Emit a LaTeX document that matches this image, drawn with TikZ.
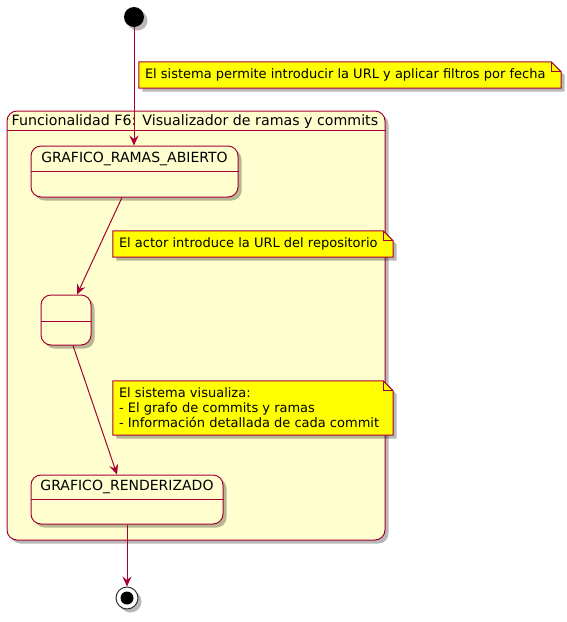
\documentclass[tikz,border=0pt]{standalone}
\usepackage{fontspec}
\setmainfont{DejaVu Sans}
\usetikzlibrary{arrows.meta,shadows}
\definecolor{umlborder}{HTML}{A80036}
\definecolor{umlfill}{HTML}{FEFECE}
\definecolor{umlnote}{HTML}{FFFF00}

\begin{document}
\begin{tikzpicture}[x=1pt,y=-1pt,
    every node/.style={font=\fontsize{13}{15}\selectfont},
    shade/.style={drop shadow={shadow xshift=3.5pt,shadow yshift=-3.5pt,fill=black,opacity=0.28}},
    state/.style={draw=umlborder,line width=1pt,fill=umlfill,rounded corners=10pt,shade,inner sep=0pt},
    notebox/.style={draw=umlborder,line width=1pt,fill=umlnote,shade},
    sep/.style={draw=umlborder,line width=1pt},
    statename/.style={font=\fontsize{14}{16}\selectfont},
    trans/.style={draw=umlborder,line width=1pt,-{Stealth[length=10pt,width=9pt,inset=3.5pt]}}]
    \useasboundingbox (0,0) rectangle (567,622);
    % composite state
    \node[state,minimum width=378pt,minimum height=429pt] (f6) at (196,325.5) {};
    \node[anchor=west,inner sep=0pt,font=\fontsize{14.2}{16}\selectfont] (f6title) at ([xshift=5pt,yshift=-11pt]f6.north west) {Funcionalidad F6: Visualizador de ramas y commits};
    \draw[sep] ([yshift=-20pt]f6.north west) -- ([yshift=-20pt]f6.north east);
    % states
    \node[state,minimum width=207pt,minimum height=51pt] (abierto) at (134.5,171.5) {};
    \node[statename] at ([yshift=-13pt]abierto.north) {GRAFICO\_RAMAS\_ABIERTO};
    \draw[sep] ([yshift=-26pt]abierto.north west) -- ([yshift=-26pt]abierto.north east);
    \node[state,minimum width=50pt,minimum height=50pt] (vacio) at (66,320) {};
    \draw[sep] ([yshift=-27pt]vacio.north west) -- ([yshift=-27pt]vacio.north east);
    \node[state,minimum width=192pt,minimum height=49pt] (render) at (127,499.5) {};
    \node[statename] at ([yshift=-12.5pt]render.north) {GRAFICO\_RENDERIZADO};
    \draw[sep] ([yshift=-25pt]render.north west) -- ([yshift=-25pt]render.north east);
    % start and end
    \node[circle,fill=black,minimum size=20pt,inner sep=0pt,shade] (inicio) at (134,17) {};
    \node[circle,draw=black!80,line width=1pt,fill=white,minimum size=22pt,inner sep=0pt,shade] (fin) at (127,598) {};
    \node[circle,fill=black,minimum size=13pt,inner sep=0pt] at (fin) {};
    % notes
    \path node[minimum width=422pt,minimum height=26pt] (n1) at (350,75) {};
    \path node[minimum width=280pt,minimum height=26pt] (n2) at (253,244) {};
    \path node[minimum width=280pt,minimum height=54pt] (n3) at (253,408) {};
    \foreach \n in {n1,n2,n3}{
        \draw[notebox] (\n.north west) -- ([xshift=-10pt]\n.north east) -- ([yshift=-10pt]\n.north east)
            -- (\n.south east) -- (\n.south west) -- cycle;
        \draw[sep] ([xshift=-10pt]\n.north east) |- ([yshift=-10pt]\n.north east);
    }
    \node[anchor=west,inner sep=0pt] at ([xshift=6pt]n1.west) {El sistema permite introducir la URL y aplicar filtros por fecha};
    \node[anchor=west,inner sep=0pt] at ([xshift=6pt]n2.west) {El actor introduce la URL del repositorio};
    \node[anchor=west,inner sep=0pt,align=left] at ([xshift=6pt]n3.west) {El sistema visualiza:\\- El grafo de commits y ramas\\- Informaci\'on detallada de cada commit};
    % transitions
    \draw[trans] (inicio) -- (abierto.north -| inicio);
    \draw[trans] ([xshift=-12.5pt]abierto.south) -- ([xshift=11pt]vacio.north);
    \draw[trans] ([xshift=7pt]vacio.south) -- ([xshift=-10pt]render.north);
    \draw[trans] (render.south) -- (fin);
\end{tikzpicture}
\end{document}
